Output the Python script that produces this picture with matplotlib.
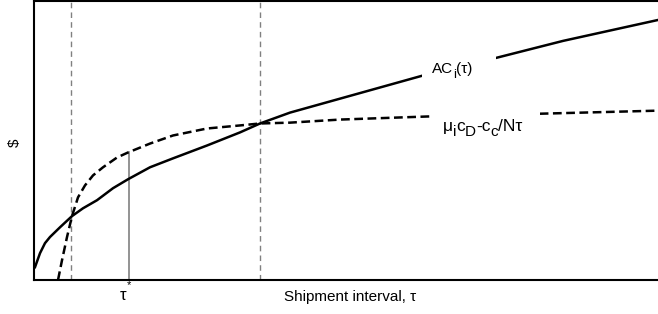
import numpy as np
import matplotlib
matplotlib.use("Agg")
import matplotlib.pyplot as plt
from matplotlib.patches import Rectangle

plt.rcParams["font.family"] = ["Liberation Sans", "DejaVu Sans"]

# =========================
# DATA (arbitrary units)
# =========================
ac_x = [0.016, 0.096, 0.176, 0.256, 0.417, 0.609, 0.785, 1.010, 1.266, 1.506, 1.859,
        2.228, 2.772, 3.301, 3.622, 4.103, 4.904, 6.218, 7.404, 8.478, 10.0]
ac_y = [0.46, 0.96, 1.32, 1.54, 1.89, 2.29, 2.57, 2.86, 3.29, 3.61, 4.04,
        4.36, 4.82, 5.29, 5.61, 6.00, 6.50, 7.32, 7.96, 8.57, 9.32]

mu_x = [0.385, 0.449, 0.529, 0.609, 0.705, 0.817, 0.946, 1.106, 1.330, 1.506, 1.859,
        2.228, 2.772, 3.301, 3.622, 4.103, 4.904, 6.298, 8.109, 10.0]
mu_y = [0.0, 0.71, 1.54, 2.29, 2.96, 3.39, 3.75, 4.04, 4.39, 4.57, 4.89,
        5.18, 5.43, 5.54, 5.61, 5.64, 5.75, 5.86, 5.96, 6.07]

x_cross = [0.6, 3.622]   # where the two curves meet
x_opt = 1.52             # tau*
y_opt = 4.6

ac_label = [("AC", 0), ("i", 1), ("(τ)", 0)]
mu_label = [("μ", 0), ("i", 1), ("c", 0), ("D", 1), ("-c", 0), ("c", 1), ("/Nτ", 0)]


def chain_label(ax, x, y, parts, size=11, sub_size=9.5, drop=3.5):
    prev = ax.text(x, y, parts[0][0], fontsize=size, va="bottom", ha="left", zorder=4)
    level = parts[0][1]
    for s, sub in parts[1:]:
        dy = (level - sub) * drop
        prev = ax.annotate(s, xy=(1, 0), xycoords=prev, xytext=(0, dy),
                           textcoords="offset points", fontsize=sub_size if sub else size,
                           va="bottom", ha="left", zorder=4)
        level = sub


# =========================
# PLOT
# =========================
fig = plt.figure(figsize=(6.58, 3.14), dpi=100)
ax = fig.add_axes([34 / 658, 34 / 314, 1 - 34 / 658, 279 / 314])

for xc in x_cross:
    ax.axvline(xc, color="#808080", lw=1, ls=(0, (4, 3)), zorder=1)
ax.plot([x_opt, x_opt], [0, y_opt], color="#808080", lw=1.2, zorder=1)

ax.plot(ac_x, ac_y, color="black", lw=1.8, zorder=2)
ax.plot(mu_x, mu_y, color="black", lw=1.8, ls=(0, (3.5, 1.8)), zorder=2)

# white gaps behind the curve labels
ax.add_patch(Rectangle((6.22, 6.9), 1.18, 1.4, facecolor="white", edgecolor="none", zorder=3))
ax.add_patch(Rectangle((6.40, 5.5), 1.71, 0.8, facecolor="white", edgecolor="none", zorder=3))

chain_label(ax, 6.378, 7.32, ac_label)
chain_label(ax, 6.55, 5.25, mu_label, size=12.5, sub_size=11, drop=4)

ax.set_xlim(0, 10)
ax.set_ylim(0, 10)
ax.set_xticks([])
ax.set_yticks([])
ax.spines["right"].set_visible(False)
for s in ["left", "bottom", "top"]:
    ax.spines[s].set_linewidth(1.5)

fig.text(123 / 658, 1 - 296 / 314, "τ", fontsize=12, ha="center", va="center")
fig.text(129 / 658, 1 - 285 / 314, "*", fontsize=8, ha="center", va="center")
fig.text(350 / 658, 1 - 297 / 314, "Shipment interval, τ", fontsize=11, ha="center", va="center")
fig.text(15 / 658, 1 - 143 / 314, "$", fontsize=11, rotation=90, ha="center", va="center")

fig.savefig("out.png", dpi=100)
